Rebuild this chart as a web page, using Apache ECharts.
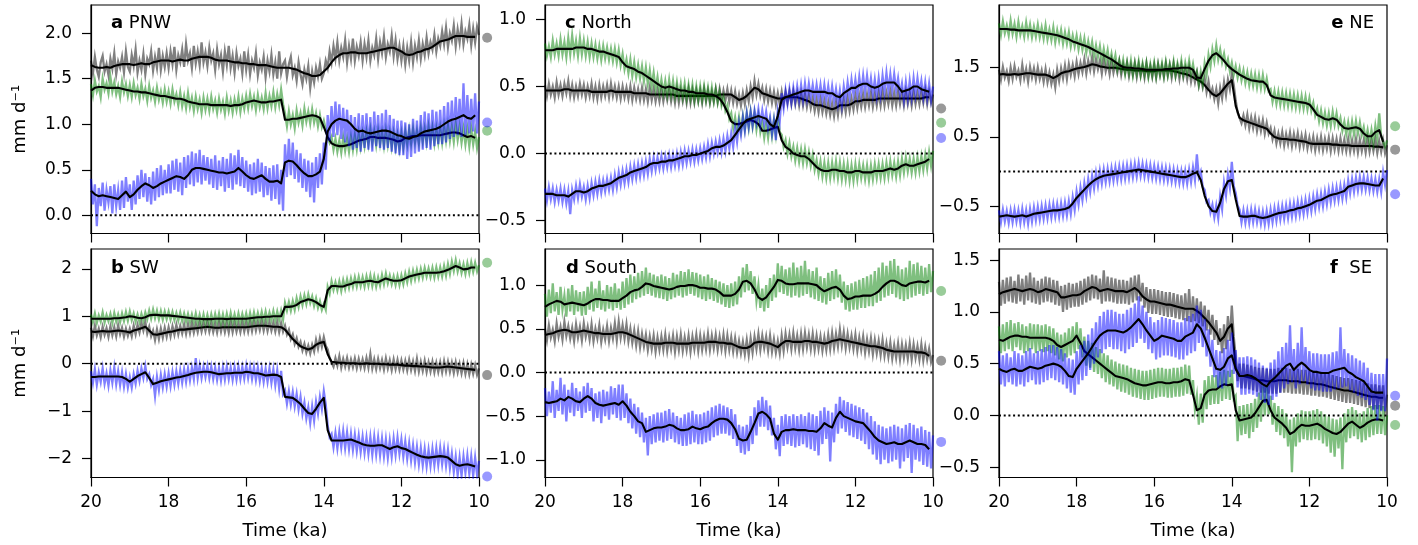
<!DOCTYPE html>
<html>
<head>
<meta charset="utf-8">
<script src="https://cdn.jsdelivr.net/npm/echarts@6/dist/echarts.min.js"></script>
<style>
html,body{margin:0;padding:0;background:#fff;}
#chart{width:1418px;height:545px;}
</style>
</head>
<body>
<div id="chart"></div>
<script>
// ---------------- DATA ----------------
// Sample times (ka) for the raw series, 0.05 ka steps
const TIME_RAW = [20.00,19.95,19.90,19.85,19.80,19.75,19.70,19.65,19.60,19.55,19.50,19.45,19.40,19.35,19.30,19.25,19.20,19.15,19.10,19.05,
19.00,18.95,18.90,18.85,18.80,18.75,18.70,18.65,18.60,18.55,18.50,18.45,18.40,18.35,18.30,18.25,18.20,18.15,18.10,18.05,
18.00,17.95,17.90,17.85,17.80,17.75,17.70,17.65,17.60,17.55,17.50,17.45,17.40,17.35,17.30,17.25,17.20,17.15,17.10,17.05,
17.00,16.95,16.90,16.85,16.80,16.75,16.70,16.65,16.60,16.55,16.50,16.45,16.40,16.35,16.30,16.25,16.20,16.15,16.10,16.05,
16.00,15.95,15.90,15.85,15.80,15.75,15.70,15.65,15.60,15.55,15.50,15.45,15.40,15.35,15.30,15.25,15.20,15.15,15.10,15.05,
15.00,14.95,14.90,14.85,14.80,14.75,14.70,14.65,14.60,14.55,14.50,14.45,14.40,14.35,14.30,14.25,14.20,14.15,14.10,14.05,
14.00,13.95,13.90,13.85,13.80,13.75,13.70,13.65,13.60,13.55,13.50,13.45,13.40,13.35,13.30,13.25,13.20,13.15,13.10,13.05,
13.00,12.95,12.90,12.85,12.80,12.75,12.70,12.65,12.60,12.55,12.50,12.45,12.40,12.35,12.30,12.25,12.20,12.15,12.10,12.05,
12.00,11.95,11.90,11.85,11.80,11.75,11.70,11.65,11.60,11.55,11.50,11.45,11.40,11.35,11.30,11.25,11.20,11.15,11.10,11.05,
11.00,10.95,10.90,10.85,10.80,10.75,10.70,10.65,10.60,10.55,10.50,10.45,10.40,10.35,10.30,10.25,10.20,10.15,10.10,10.05,10.00];
// Sample times (ka) for the smoothed series, 0.1 ka steps
const TIME_SMOOTH = [20.0,19.9,19.8,19.7,19.6,19.5,19.4,19.3,19.2,19.1,
19.0,18.9,18.8,18.7,18.6,18.5,18.4,18.3,18.2,18.1,
18.0,17.9,17.8,17.7,17.6,17.5,17.4,17.3,17.2,17.1,
17.0,16.9,16.8,16.7,16.6,16.5,16.4,16.3,16.2,16.1,
16.0,15.9,15.8,15.7,15.6,15.5,15.4,15.3,15.2,15.1,
15.0,14.9,14.8,14.7,14.6,14.5,14.4,14.3,14.2,14.1,
14.0,13.9,13.8,13.7,13.6,13.5,13.4,13.3,13.2,13.1,
13.0,12.9,12.8,12.7,12.6,12.5,12.4,12.3,12.2,12.1,
12.0,11.9,11.8,11.7,11.6,11.5,11.4,11.3,11.2,11.1,
11.0,10.9,10.8,10.7,10.6,10.5,10.4,10.3,10.2,10.1];
const DOT_TIME = 9.79;

// ---- a PNW ----
const PNW_GREY = [1.70,1.56,1.74,1.60,1.52,1.68,1.75,1.58,1.66,1.54,1.72,1.61,1.78,1.55,1.69,1.62,1.74,1.57,1.80,1.63,
1.58,1.76,1.64,1.82,1.57,1.70,1.60,1.77,1.55,1.72,1.66,1.80,1.59,1.74,1.62,1.84,1.60,1.75,1.63,1.78,
1.62,1.80,1.66,1.85,1.60,1.76,1.68,1.82,1.63,1.88,1.70,1.78,1.62,1.86,1.67,1.80,1.65,1.90,1.68,1.79,
1.64,1.84,1.70,1.78,1.60,1.82,1.66,1.76,1.58,1.80,1.65,1.86,1.62,1.75,1.57,1.78,1.64,1.72,1.56,1.80,
1.60,1.76,1.55,1.70,1.62,1.78,1.54,1.68,1.60,1.74,1.52,1.70,1.58,1.76,1.55,1.68,1.50,1.80,1.56,1.66,
1.70,1.52,1.66,1.74,1.54,1.62,1.48,1.68,1.55,1.44,1.60,1.50,1.64,1.40,1.58,1.46,1.62,1.52,1.66,1.50,
1.56,1.70,1.62,1.80,1.68,1.86,1.72,1.90,1.70,1.84,1.74,1.92,1.68,1.86,1.72,1.94,1.70,1.85,1.75,1.90,
1.70,1.88,1.74,1.92,1.70,1.84,1.76,1.94,1.72,1.90,1.78,1.96,1.74,1.88,1.80,1.97,1.75,1.92,1.72,1.86,
1.70,1.86,1.66,1.84,1.70,1.90,1.68,1.86,1.74,1.92,1.72,1.88,1.76,1.95,1.78,1.90,1.82,1.98,1.80,1.94,
1.86,2.02,1.88,2.06,1.85,2.00,1.92,2.08,1.86,2.04,1.90,2.10,1.88,2.02,1.94,2.09,1.87,2.05,1.90,2.07,1.98];
const PNW_GREY_SMOOTH = [1.65,1.63,1.62,1.62,1.63,1.62,1.64,1.65,1.66,1.66,
1.66,1.65,1.66,1.67,1.66,1.66,1.68,1.69,1.70,1.70,
1.70,1.69,1.70,1.71,1.70,1.70,1.72,1.73,1.74,1.74,
1.74,1.73,1.71,1.70,1.70,1.70,1.69,1.68,1.68,1.67,
1.67,1.66,1.66,1.65,1.65,1.65,1.64,1.63,1.62,1.62,
1.62,1.62,1.61,1.60,1.58,1.56,1.55,1.53,1.53,1.54,
1.58,1.62,1.68,1.73,1.76,1.78,1.78,1.79,1.79,1.78,
1.78,1.78,1.79,1.80,1.81,1.82,1.83,1.84,1.84,1.82,
1.80,1.77,1.76,1.77,1.79,1.80,1.82,1.83,1.85,1.88,
1.91,1.92,1.93,1.95,1.97,1.97,1.97,1.96,1.96,1.96];
const PNW_GREEN = [1.44,1.32,1.48,1.36,1.42,1.30,1.50,1.38,1.45,1.34,1.52,1.36,1.46,1.33,1.42,1.30,1.47,1.35,1.44,1.31,
1.43,1.30,1.45,1.32,1.40,1.28,1.44,1.31,1.39,1.26,1.42,1.29,1.37,1.25,1.40,1.27,1.36,1.24,1.38,1.25,
1.36,1.23,1.38,1.25,1.33,1.21,1.35,1.20,1.31,1.18,1.34,1.19,1.29,1.15,1.30,1.17,1.27,1.13,1.29,1.16,
1.28,1.15,1.30,1.17,1.26,1.13,1.28,1.16,1.25,1.12,1.29,1.15,1.26,1.13,1.27,1.16,1.30,1.14,1.28,1.17,
1.31,1.18,1.33,1.20,1.30,1.16,1.32,1.19,1.29,1.17,1.34,1.18,1.31,1.20,1.35,1.19,1.33,1.21,1.38,1.22,
1.12,0.98,1.14,1.00,1.10,0.96,1.15,1.02,1.12,0.99,1.17,1.03,1.14,1.01,1.16,1.02,1.12,0.98,1.10,0.97,
1.04,0.94,0.92,0.80,0.86,0.72,0.84,0.70,0.82,0.69,0.85,0.71,0.84,0.70,0.86,0.72,0.88,0.73,0.90,0.75,
0.90,0.76,0.92,0.78,0.94,0.79,0.92,0.77,0.93,0.78,0.91,0.76,0.93,0.77,0.91,0.75,0.90,0.74,0.88,0.73,
0.90,0.75,0.92,0.78,0.94,0.79,0.95,0.80,0.93,0.79,0.96,0.81,0.95,0.80,0.97,0.81,0.96,0.79,0.95,0.80,
0.96,0.80,0.98,0.82,0.99,0.82,0.97,0.81,1.00,0.83,0.97,0.80,0.95,0.78,0.94,0.76,0.95,0.78,0.92,0.74,0.86];
const PNW_GREEN_SMOOTH = [1.37,1.40,1.41,1.41,1.40,1.40,1.40,1.40,1.39,1.38,
1.37,1.36,1.36,1.35,1.35,1.34,1.33,1.32,1.31,1.31,
1.30,1.29,1.28,1.28,1.27,1.25,1.24,1.23,1.22,1.22,
1.22,1.21,1.21,1.21,1.21,1.21,1.20,1.21,1.21,1.22,
1.24,1.25,1.26,1.25,1.24,1.24,1.25,1.25,1.26,1.27,
1.05,1.05,1.06,1.06,1.07,1.08,1.09,1.10,1.09,1.07,
0.97,0.86,0.79,0.77,0.76,0.76,0.77,0.78,0.80,0.82,
0.83,0.84,0.86,0.86,0.85,0.85,0.85,0.84,0.83,0.81,
0.82,0.85,0.86,0.87,0.87,0.88,0.88,0.88,0.88,0.88,
0.88,0.89,0.90,0.91,0.91,0.90,0.88,0.86,0.87,0.85];
const PNW_BLUE = [0.40,0.12,0.34,-0.12,0.30,0.10,0.36,0.05,0.28,0.14,0.32,0.02,0.34,0.10,0.28,0.06,0.38,0.08,0.42,0.15,
0.34,0.06,0.38,0.12,0.44,0.18,0.50,0.20,0.46,0.15,0.42,0.12,0.48,0.16,0.52,0.20,0.55,0.22,0.50,0.24,
0.56,0.24,0.60,0.28,0.62,0.26,0.58,0.22,0.64,0.30,0.66,0.34,0.70,0.32,0.68,0.36,0.72,0.34,0.66,0.38,
0.64,0.34,0.62,0.30,0.66,0.28,0.60,0.32,0.64,0.26,0.62,0.30,0.68,0.28,0.66,0.34,0.72,0.32,0.64,0.30,
0.60,0.26,0.56,0.22,0.58,0.24,0.62,0.26,0.58,0.20,0.54,0.22,0.52,0.16,0.55,0.18,0.56,0.12,0.50,0.05,
0.78,0.42,0.84,0.44,0.80,0.40,0.72,0.36,0.68,0.30,0.62,0.26,0.60,0.20,0.58,0.14,0.64,0.30,0.68,0.34,
0.80,0.50,1.10,0.82,1.20,0.86,1.25,0.88,1.22,0.84,1.18,0.80,1.16,0.76,1.10,0.72,1.08,0.74,1.12,0.70,
1.10,0.74,1.12,0.72,1.08,0.70,1.14,0.76,1.10,0.74,1.12,0.72,1.16,0.74,1.10,0.70,1.06,0.68,1.04,0.66,
1.04,0.66,1.02,0.62,1.00,0.64,1.06,0.68,1.04,0.70,1.10,0.72,1.14,0.74,1.12,0.72,1.16,0.76,1.14,0.78,
1.16,0.78,1.20,0.80,1.24,0.84,1.26,0.86,1.30,0.88,1.28,0.86,1.45,0.88,1.32,0.90,1.28,0.92,1.34,0.90,1.25];
const PNW_BLUE_SMOOTH = [0.27,0.23,0.21,0.22,0.21,0.20,0.19,0.18,0.22,0.26,
0.20,0.23,0.28,0.32,0.35,0.33,0.30,0.32,0.35,0.37,
0.39,0.41,0.43,0.42,0.40,0.44,0.50,0.52,0.52,0.51,
0.50,0.49,0.48,0.47,0.47,0.46,0.47,0.48,0.52,0.48,
0.44,0.41,0.40,0.42,0.44,0.40,0.37,0.37,0.38,0.35,
0.58,0.60,0.59,0.55,0.50,0.46,0.43,0.43,0.45,0.48,
0.62,0.92,1.00,1.04,1.06,1.05,1.04,1.00,0.95,0.92,
0.93,0.91,0.90,0.91,0.92,0.93,0.93,0.92,0.90,0.88,
0.87,0.85,0.84,0.86,0.87,0.90,0.92,0.93,0.94,0.95,
0.97,1.00,1.03,1.05,1.06,1.08,1.10,1.07,1.06,1.10];
const PNW_DOTS = [1.95, 0.93, 1.02]; // grey, green, blue
const PNW_TICKS = [0, 0.5, 1.0, 1.5, 2.0];

// ---- b SW ----
const SW_GREY = [0.76,0.58,0.80,0.60,0.74,0.56,0.78,0.61,0.75,0.57,0.79,0.60,0.77,0.58,0.81,0.62,0.76,0.57,0.74,0.59,
0.74,0.58,0.80,0.62,0.82,0.66,0.86,0.70,0.88,0.64,0.78,0.58,0.70,0.50,0.72,0.52,0.74,0.55,0.76,0.57,
0.77,0.58,0.79,0.61,0.82,0.62,0.80,0.64,0.83,0.63,0.84,0.65,0.86,0.66,0.84,0.67,0.87,0.68,0.86,0.69,
0.88,0.68,0.86,0.67,0.85,0.66,0.88,0.68,0.87,0.67,0.86,0.66,0.89,0.67,0.87,0.68,0.85,0.67,0.88,0.68,
0.87,0.68,0.89,0.69,0.90,0.70,0.88,0.71,0.91,0.70,0.89,0.69,0.88,0.70,0.87,0.68,0.88,0.67,0.86,0.68,
0.80,0.62,0.72,0.52,0.62,0.42,0.54,0.36,0.46,0.28,0.42,0.24,0.38,0.22,0.40,0.26,0.50,0.32,0.54,0.36,
0.56,0.38,0.30,0.12,0.14,-0.06,0.12,-0.04,0.16,-0.08,0.10,-0.06,0.12,-0.08,0.09,-0.07,0.11,-0.09,0.10,-0.08,
0.09,-0.09,0.12,-0.08,0.20,-0.10,0.09,-0.11,0.10,-0.09,0.08,-0.12,0.11,-0.10,0.07,-0.13,0.09,-0.11,0.08,-0.12,
0.07,-0.12,0.06,-0.14,0.08,-0.13,0.05,-0.15,0.10,-0.16,0.04,-0.15,0.06,-0.17,0.03,-0.16,0.04,-0.18,0.02,-0.17,
0.03,-0.18,0.05,-0.16,0.04,-0.17,0.02,-0.19,0.03,-0.18,0.00,-0.20,0.01,-0.21,-0.01,-0.22,-0.02,-0.21,-0.03,-0.23,-0.10];
const SW_GREY_SMOOTH = [0.68,0.67,0.68,0.69,0.68,0.68,0.69,0.70,0.69,0.68,
0.66,0.70,0.72,0.75,0.78,0.70,0.62,0.61,0.63,0.65,
0.67,0.68,0.70,0.72,0.72,0.73,0.74,0.75,0.76,0.77,
0.78,0.77,0.76,0.76,0.77,0.77,0.77,0.77,0.77,0.77,
0.77,0.78,0.79,0.80,0.80,0.80,0.79,0.78,0.78,0.77,
0.72,0.62,0.52,0.44,0.37,0.33,0.30,0.33,0.40,0.44,
0.46,0.20,0.04,0.03,0.02,0.02,0.01,0.01,0.01,0.00,
0.00,0.01,0.00,0.00,0.00,-0.01,-0.01,-0.02,-0.02,-0.02,
-0.03,-0.04,-0.04,-0.05,-0.05,-0.06,-0.06,-0.07,-0.08,-0.08,
-0.08,-0.07,-0.06,-0.07,-0.08,-0.09,-0.10,-0.11,-0.12,-0.13];
const SW_GREEN = [1.04,0.88,1.06,0.86,1.02,0.89,1.08,0.87,1.03,0.90,1.05,0.86,1.07,0.89,1.04,0.88,1.06,0.90,1.09,0.91,
1.10,0.92,1.06,0.89,1.04,0.88,1.05,0.90,1.08,0.94,1.12,0.95,1.14,0.96,1.12,0.94,1.11,0.93,1.10,0.94,
1.10,0.93,1.09,0.92,1.07,0.91,1.08,0.90,1.06,0.89,1.05,0.88,1.04,0.87,1.06,0.86,1.03,0.85,1.04,0.85,
1.03,0.85,1.04,0.86,1.05,0.87,1.06,0.86,1.04,0.85,1.05,0.86,1.07,0.87,1.04,0.86,1.06,0.87,1.05,0.88,
1.06,0.87,1.07,0.88,1.08,0.89,1.07,0.90,1.09,0.90,1.10,0.91,1.08,0.92,1.11,0.91,1.10,0.92,1.12,0.93,
1.28,1.12,1.30,1.12,1.32,1.14,1.38,1.20,1.42,1.24,1.44,1.26,1.46,1.28,1.42,1.22,1.38,1.18,1.32,1.14,
1.26,1.14,1.62,1.48,1.74,1.56,1.72,1.55,1.74,1.54,1.76,1.58,1.78,1.60,1.80,1.62,1.82,1.63,1.83,1.64,
1.82,1.63,1.84,1.65,1.86,1.64,1.84,1.63,1.82,1.65,1.87,1.68,1.90,1.70,1.86,1.68,1.84,1.66,1.85,1.66,
1.86,1.68,1.90,1.72,1.94,1.75,1.96,1.78,1.98,1.80,2.00,1.82,2.02,1.84,2.01,1.83,2.02,1.82,2.03,1.84,
2.03,1.84,2.06,1.86,2.10,1.90,2.15,1.96,2.18,1.95,2.12,1.92,2.10,1.90,2.12,1.92,2.14,1.94,2.13,1.95,2.08];
const SW_GREEN_SMOOTH = [0.95,0.95,0.95,0.95,0.95,0.95,0.96,0.96,0.97,0.98,
1.00,0.99,0.97,0.96,0.98,1.02,1.03,1.03,1.02,1.02,
1.02,1.01,1.00,0.99,0.98,0.97,0.96,0.95,0.95,0.94,
0.94,0.94,0.95,0.95,0.95,0.94,0.95,0.95,0.95,0.95,
0.95,0.96,0.97,0.98,0.98,0.99,0.99,1.00,1.00,1.00,
1.20,1.20,1.21,1.24,1.30,1.33,1.36,1.34,1.30,1.24,
1.20,1.55,1.64,1.64,1.63,1.63,1.66,1.68,1.72,1.72,
1.72,1.74,1.75,1.73,1.72,1.76,1.80,1.77,1.75,1.75,
1.76,1.80,1.84,1.86,1.88,1.90,1.92,1.92,1.92,1.92,
1.93,1.95,1.98,2.02,2.06,2.03,1.99,2.00,2.03,2.03];
const SW_BLUE = [-0.16,-0.40,-0.12,-0.44,-0.18,-0.38,-0.10,-0.42,-0.20,-0.46,-0.14,-0.40,-0.08,-0.43,-0.16,-0.45,-0.18,-0.48,-0.22,-0.50,
-0.28,-0.50,-0.22,-0.42,-0.15,-0.36,-0.10,-0.30,-0.05,-0.32,-0.22,-0.45,-0.32,-0.68,-0.28,-0.55,-0.24,-0.50,-0.22,-0.48,
-0.20,-0.47,-0.18,-0.44,-0.16,-0.42,-0.14,-0.40,-0.12,-0.38,-0.10,-0.35,-0.08,-0.32,0.12,-0.30,-0.04,-0.30,-0.06,-0.28,
-0.05,-0.30,-0.06,-0.32,-0.08,-0.34,-0.09,-0.35,-0.07,-0.33,-0.06,-0.32,-0.08,-0.34,-0.07,-0.33,-0.06,-0.32,-0.07,-0.31,
-0.04,-0.30,-0.06,-0.32,-0.07,-0.34,-0.08,-0.36,-0.10,-0.38,-0.11,-0.38,-0.10,-0.40,-0.12,-0.45,-0.14,-0.52,-0.15,-0.64,
-0.56,-0.84,-0.58,-0.86,-0.60,-0.90,-0.64,-0.96,-0.70,-1.05,-0.82,-1.15,-0.92,-1.25,-0.90,-1.20,-0.80,-1.05,-0.70,-0.95,
-0.58,-0.86,-1.30,-1.55,-1.48,-1.76,-1.46,-1.78,-1.44,-1.76,-1.42,-1.78,-1.45,-1.80,-1.48,-1.82,-1.50,-1.84,-1.52,-1.86,
-1.54,-1.88,-1.56,-1.90,-1.55,-1.92,-1.54,-1.91,-1.56,-1.93,-1.58,-1.95,-1.60,-1.98,-1.62,-1.96,-1.58,-1.92,-1.56,-1.90,
-1.60,-1.96,-1.64,-2.00,-1.68,-2.04,-1.72,-2.08,-1.76,-2.12,-1.78,-2.14,-1.80,-2.16,-1.82,-2.15,-1.80,-2.14,-1.79,-2.13,
-1.78,-2.12,-1.80,-2.15,-1.82,-2.20,-1.90,-2.28,-1.96,-2.35,-1.98,-2.36,-1.96,-2.30,-1.94,-2.32,-1.96,-2.36,-1.98,-2.34,-2.05];
const SW_BLUE_SMOOTH = [-0.28,-0.28,-0.27,-0.27,-0.27,-0.27,-0.27,-0.27,-0.28,-0.32,
-0.38,-0.32,-0.26,-0.22,-0.18,-0.30,-0.43,-0.40,-0.37,-0.35,
-0.33,-0.31,-0.29,-0.28,-0.26,-0.24,-0.21,-0.19,-0.18,-0.17,
-0.17,-0.18,-0.20,-0.22,-0.21,-0.20,-0.20,-0.19,-0.19,-0.19,
-0.17,-0.18,-0.20,-0.20,-0.22,-0.25,-0.24,-0.23,-0.24,-0.28,
-0.70,-0.71,-0.72,-0.78,-0.85,-0.95,-1.04,-1.06,-0.95,-0.82,
-0.72,-1.40,-1.62,-1.62,-1.62,-1.62,-1.61,-1.60,-1.63,-1.66,
-1.70,-1.72,-1.73,-1.73,-1.72,-1.72,-1.76,-1.80,-1.76,-1.74,
-1.78,-1.80,-1.84,-1.88,-1.92,-1.95,-1.97,-1.98,-1.97,-1.96,
-1.95,-1.96,-1.98,-2.05,-2.12,-2.15,-2.13,-2.12,-2.14,-2.17];
const SW_DOTS = [-0.24, 2.13, -2.38];
const SW_TICKS = [-2, -1, 0, 1, 2];

// ---- c North ----
const NORTH_GREY = [0.51,0.43,0.52,0.44,0.50,0.42,0.53,0.44,0.51,0.43,0.52,0.45,0.54,0.43,0.51,0.42,0.50,0.43,0.52,0.44,
0.51,0.42,0.50,0.43,0.52,0.42,0.50,0.41,0.51,0.42,0.50,0.43,0.51,0.42,0.52,0.43,0.50,0.42,0.50,0.41,
0.50,0.42,0.49,0.41,0.50,0.40,0.49,0.41,0.48,0.40,0.49,0.40,0.48,0.39,0.49,0.40,0.48,0.39,0.47,0.39,
0.48,0.39,0.47,0.40,0.48,0.39,0.47,0.38,0.48,0.38,0.47,0.39,0.47,0.38,0.48,0.38,0.47,0.38,0.47,0.39,
0.47,0.38,0.48,0.39,0.47,0.38,0.46,0.39,0.48,0.39,0.48,0.39,0.47,0.40,0.48,0.39,0.47,0.38,0.46,0.37,
0.44,0.36,0.45,0.37,0.47,0.39,0.50,0.42,0.54,0.44,0.52,0.43,0.49,0.40,0.48,0.39,0.47,0.38,0.46,0.37,
0.45,0.37,0.46,0.37,0.46,0.38,0.46,0.37,0.46,0.37,0.45,0.36,0.45,0.36,0.44,0.35,0.43,0.34,0.41,0.32,
0.40,0.31,0.40,0.31,0.39,0.30,0.38,0.29,0.37,0.28,0.38,0.29,0.40,0.31,0.40,0.31,0.41,0.32,0.41,0.33,
0.43,0.34,0.43,0.35,0.44,0.35,0.44,0.36,0.45,0.35,0.44,0.36,0.45,0.36,0.46,0.36,0.45,0.37,0.46,0.36,
0.45,0.36,0.46,0.37,0.45,0.36,0.46,0.37,0.45,0.36,0.46,0.37,0.45,0.37,0.46,0.38,0.47,0.37,0.46,0.38,0.44];
const NORTH_GREY_SMOOTH = [0.47,0.47,0.47,0.47,0.47,0.48,0.48,0.47,0.47,0.47,
0.47,0.47,0.46,0.46,0.46,0.46,0.46,0.47,0.46,0.46,
0.46,0.46,0.46,0.45,0.45,0.45,0.45,0.44,0.44,0.44,
0.44,0.44,0.44,0.44,0.43,0.43,0.43,0.43,0.43,0.43,
0.43,0.43,0.43,0.43,0.43,0.44,0.44,0.44,0.44,0.42,
0.40,0.41,0.43,0.46,0.49,0.48,0.45,0.44,0.43,0.42,
0.41,0.41,0.42,0.42,0.42,0.42,0.41,0.40,0.39,0.37,
0.36,0.36,0.35,0.34,0.33,0.34,0.36,0.36,0.36,0.37,
0.39,0.39,0.40,0.40,0.40,0.40,0.41,0.41,0.41,0.41,
0.41,0.41,0.41,0.41,0.41,0.41,0.41,0.41,0.42,0.42];
const NORTH_GREEN = [0.82,0.73,0.80,0.72,0.84,0.74,0.82,0.73,0.85,0.74,0.83,0.72,0.86,0.74,0.88,0.75,0.84,0.73,0.86,0.74,
0.84,0.73,0.83,0.72,0.82,0.72,0.81,0.71,0.80,0.70,0.80,0.71,0.79,0.70,0.78,0.69,0.78,0.68,0.77,0.66,
0.74,0.63,0.70,0.60,0.70,0.58,0.68,0.57,0.66,0.56,0.65,0.54,0.64,0.52,0.62,0.50,0.60,0.48,0.57,0.46,
0.55,0.45,0.54,0.44,0.55,0.44,0.54,0.43,0.53,0.43,0.52,0.42,0.52,0.41,0.51,0.41,0.51,0.40,0.50,0.40,
0.50,0.40,0.50,0.40,0.49,0.39,0.49,0.39,0.48,0.38,0.46,0.36,0.42,0.32,0.36,0.26,0.30,0.19,0.27,0.17,
0.27,0.17,0.28,0.18,0.30,0.19,0.31,0.20,0.30,0.18,0.28,0.16,0.23,0.12,0.22,0.12,0.24,0.13,0.25,0.14,
0.28,0.16,0.14,0.05,0.10,0.00,0.08,-0.02,0.05,-0.05,0.04,-0.06,0.03,-0.07,0.03,-0.07,0.01,-0.09,-0.01,-0.12,
-0.05,-0.15,-0.06,-0.17,-0.07,-0.18,-0.07,-0.18,-0.07,-0.17,-0.06,-0.18,-0.07,-0.19,-0.08,-0.19,-0.08,-0.20,-0.09,-0.20,
-0.08,-0.19,-0.08,-0.18,-0.09,-0.19,-0.09,-0.20,-0.09,-0.19,-0.08,-0.18,-0.08,-0.18,-0.08,-0.18,-0.07,-0.17,-0.06,-0.16,
-0.07,-0.17,-0.06,-0.16,-0.04,-0.14,-0.03,-0.13,-0.04,-0.14,-0.04,-0.14,-0.03,-0.13,-0.02,-0.12,-0.01,-0.11,0.01,-0.09,0.02];
const NORTH_GREEN_SMOOTH = [0.77,0.77,0.77,0.78,0.78,0.78,0.78,0.78,0.79,0.79,
0.79,0.78,0.78,0.77,0.76,0.76,0.75,0.74,0.73,0.72,
0.68,0.65,0.64,0.63,0.61,0.60,0.58,0.56,0.54,0.52,
0.50,0.49,0.50,0.49,0.48,0.47,0.47,0.46,0.46,0.45,
0.45,0.45,0.44,0.44,0.43,0.41,0.37,0.31,0.24,0.22,
0.22,0.23,0.24,0.25,0.24,0.22,0.17,0.17,0.18,0.19,
0.20,0.10,0.05,0.03,0.00,-0.01,-0.02,-0.02,-0.04,-0.07,
-0.10,-0.12,-0.13,-0.13,-0.12,-0.12,-0.13,-0.13,-0.14,-0.14,
-0.13,-0.13,-0.14,-0.14,-0.14,-0.13,-0.13,-0.13,-0.12,-0.11,
-0.12,-0.11,-0.09,-0.08,-0.09,-0.09,-0.08,-0.07,-0.06,-0.04];
const NORTH_BLUE = [-0.26,-0.35,-0.25,-0.34,-0.26,-0.36,-0.27,-0.35,-0.26,-0.36,-0.27,-0.37,-0.28,-0.45,-0.27,-0.34,-0.24,-0.33,-0.23,-0.32,
-0.25,-0.34,-0.24,-0.33,-0.22,-0.31,-0.21,-0.30,-0.20,-0.29,-0.20,-0.28,-0.19,-0.27,-0.18,-0.27,-0.16,-0.25,-0.14,-0.23,
-0.13,-0.22,-0.12,-0.21,-0.10,-0.19,-0.09,-0.18,-0.08,-0.17,-0.07,-0.16,-0.06,-0.15,-0.04,-0.13,-0.03,-0.12,-0.03,-0.11,
-0.02,-0.11,-0.02,-0.10,-0.01,-0.10,-0.01,-0.09,0.00,-0.09,0.01,-0.08,0.02,-0.07,0.02,-0.06,0.03,-0.06,0.03,-0.05,
0.04,-0.04,0.05,-0.03,0.07,-0.02,0.08,0.00,0.09,0.01,0.10,0.01,0.11,0.02,0.13,0.04,0.15,0.05,0.19,0.09,
0.23,0.14,0.27,0.17,0.30,0.20,0.31,0.21,0.32,0.23,0.33,0.22,0.32,0.22,0.31,0.19,0.27,0.15,0.25,0.10,
0.32,0.24,0.45,0.34,0.47,0.37,0.48,0.38,0.49,0.39,0.50,0.40,0.51,0.40,0.52,0.41,0.52,0.42,0.51,0.41,
0.51,0.41,0.51,0.40,0.51,0.40,0.50,0.39,0.50,0.39,0.48,0.37,0.47,0.36,0.50,0.40,0.53,0.42,0.55,0.44,
0.55,0.44,0.57,0.45,0.58,0.46,0.58,0.46,0.56,0.44,0.55,0.43,0.56,0.44,0.58,0.46,0.60,0.47,0.59,0.47,
0.59,0.47,0.56,0.44,0.52,0.40,0.53,0.41,0.54,0.42,0.56,0.44,0.56,0.45,0.54,0.42,0.53,0.41,0.52,0.40,0.50];
const NORTH_BLUE_SMOOTH = [-0.30,-0.30,-0.30,-0.31,-0.31,-0.31,-0.32,-0.30,-0.28,-0.28,
-0.29,-0.28,-0.26,-0.25,-0.24,-0.24,-0.23,-0.22,-0.20,-0.18,
-0.17,-0.16,-0.14,-0.13,-0.12,-0.11,-0.10,-0.08,-0.07,-0.07,
-0.06,-0.06,-0.05,-0.05,-0.04,-0.03,-0.02,-0.02,-0.01,-0.01,
0.00,0.01,0.02,0.04,0.05,0.05,0.06,0.08,0.10,0.14,
0.18,0.22,0.25,0.26,0.27,0.28,0.27,0.26,0.22,0.20,
0.28,0.40,0.42,0.43,0.44,0.45,0.46,0.47,0.47,0.46,
0.46,0.46,0.46,0.45,0.45,0.43,0.42,0.45,0.47,0.49,
0.49,0.51,0.52,0.52,0.50,0.49,0.50,0.52,0.53,0.53,
0.53,0.50,0.46,0.47,0.48,0.50,0.50,0.48,0.47,0.46];
const NORTH_DOTS = [0.336, 0.23, 0.117];
const NORTH_TICKS = [-0.5, 0, 0.5, 1.0];

// ---- d South ----
const SOUTH_GREY = [0.50,0.37,0.54,0.40,0.49,0.36,0.56,0.41,0.52,0.38,0.58,0.42,0.53,0.39,0.51,0.36,0.55,0.40,0.52,0.37,
0.56,0.41,0.52,0.38,0.55,0.36,0.50,0.39,0.54,0.35,0.49,0.38,0.53,0.36,0.51,0.39,0.56,0.37,0.58,0.40,
0.54,0.39,0.55,0.36,0.50,0.34,0.48,0.31,0.47,0.29,0.44,0.30,0.43,0.26,0.41,0.27,0.42,0.24,0.40,0.26,
0.41,0.26,0.43,0.25,0.40,0.27,0.42,0.24,0.41,0.26,0.43,0.25,0.40,0.26,0.42,0.24,0.41,0.27,0.43,0.25,
0.42,0.26,0.41,0.27,0.44,0.26,0.42,0.28,0.43,0.26,0.41,0.27,0.43,0.25,0.42,0.26,0.40,0.24,0.39,0.23,
0.36,0.22,0.35,0.21,0.37,0.20,0.39,0.23,0.41,0.27,0.44,0.26,0.42,0.28,0.41,0.25,0.42,0.24,0.38,0.23,
0.36,0.22,0.42,0.25,0.44,0.29,0.43,0.27,0.45,0.28,0.42,0.26,0.44,0.27,0.45,0.29,0.43,0.27,0.44,0.26,
0.42,0.27,0.41,0.25,0.40,0.26,0.43,0.27,0.45,0.28,0.44,0.30,0.49,0.31,0.46,0.28,0.44,0.29,0.42,0.27,
0.43,0.25,0.40,0.26,0.41,0.23,0.38,0.24,0.39,0.21,0.37,0.22,0.36,0.20,0.37,0.19,0.33,0.18,0.34,0.16,
0.31,0.17,0.33,0.15,0.32,0.17,0.31,0.16,0.33,0.15,0.32,0.17,0.30,0.15,0.32,0.14,0.29,0.15,0.27,0.12,0.20];
const SOUTH_GREY_SMOOTH = [0.43,0.44,0.45,0.47,0.48,0.49,0.48,0.46,0.46,0.47,
0.48,0.47,0.46,0.45,0.45,0.44,0.44,0.44,0.45,0.46,
0.46,0.45,0.43,0.41,0.39,0.37,0.35,0.34,0.33,0.33,
0.33,0.34,0.34,0.34,0.33,0.33,0.33,0.33,0.34,0.34,
0.34,0.34,0.35,0.35,0.35,0.34,0.34,0.33,0.33,0.31,
0.29,0.28,0.28,0.30,0.34,0.35,0.35,0.34,0.33,0.31,
0.29,0.33,0.36,0.36,0.35,0.35,0.35,0.36,0.36,0.35,
0.35,0.34,0.33,0.34,0.36,0.37,0.38,0.37,0.36,0.35,
0.34,0.33,0.32,0.31,0.30,0.30,0.29,0.28,0.26,0.25,
0.24,0.24,0.24,0.24,0.24,0.24,0.23,0.23,0.22,0.19];
const SOUTH_GREEN = [0.90,0.64,0.95,0.68,1.02,0.70,0.92,0.66,0.98,0.72,0.88,0.64,0.96,0.70,1.00,0.66,0.94,0.70,0.92,0.65,
0.93,0.66,0.98,0.72,1.04,0.70,0.96,0.74,1.05,0.72,0.94,0.70,1.00,0.73,0.98,0.71,1.02,0.74,0.96,0.72,
1.04,0.74,1.08,0.78,1.12,0.80,1.10,0.84,1.14,0.86,1.16,0.88,1.20,0.90,1.14,0.88,1.12,0.86,1.10,0.85,
1.12,0.84,1.10,0.82,1.08,0.84,1.14,0.86,1.12,0.88,1.16,0.86,1.15,0.88,1.18,0.90,1.15,0.88,1.14,0.86,
1.12,0.84,1.10,0.82,1.12,0.84,1.08,0.82,1.06,0.80,1.04,0.78,1.02,0.75,1.00,0.74,1.02,0.76,1.04,0.78,
1.10,0.86,1.20,0.92,1.24,0.94,1.16,0.90,1.10,0.82,1.00,0.74,0.96,0.70,1.00,0.74,1.08,0.82,1.12,0.86,
1.25,0.92,1.22,0.90,1.18,0.88,1.20,0.86,1.26,0.88,1.20,0.86,1.22,0.88,1.28,0.90,1.18,0.86,1.16,0.84,
1.20,0.82,1.10,0.80,1.08,0.78,1.14,0.82,1.16,0.84,1.18,0.86,1.12,0.80,1.04,0.72,1.00,0.70,1.02,0.72,
1.04,0.72,1.06,0.74,1.08,0.74,1.10,0.76,1.12,0.76,1.16,0.80,1.20,0.82,1.26,0.86,1.22,0.88,1.28,0.90,
1.30,0.86,1.22,0.84,1.18,0.82,1.20,0.84,1.28,0.86,1.24,0.88,1.26,0.90,1.22,0.88,1.20,0.90,1.24,0.92,1.16];
const SOUTH_GREEN_SMOOTH = [0.75,0.78,0.80,0.82,0.81,0.78,0.79,0.80,0.79,0.78,
0.77,0.79,0.82,0.84,0.84,0.83,0.83,0.82,0.82,0.82,
0.85,0.88,0.92,0.94,0.95,0.98,1.02,1.01,0.99,0.98,
0.97,0.96,0.95,0.96,0.98,0.99,0.99,1.00,1.00,0.99,
0.97,0.97,0.96,0.96,0.95,0.92,0.88,0.88,0.88,0.90,
0.95,1.04,1.05,1.02,0.95,0.86,0.83,0.86,0.92,0.98,
1.06,1.05,1.02,1.01,1.01,1.02,1.02,1.02,1.02,1.01,
1.00,0.96,0.93,0.95,0.97,0.98,0.95,0.88,0.84,0.85,
0.87,0.87,0.88,0.88,0.88,0.90,0.93,0.98,1.02,1.05,
1.05,1.03,1.00,0.99,1.02,1.03,1.04,1.04,1.03,1.05];
const SOUTH_BLUE = [-0.18,-0.50,-0.22,-0.46,-0.10,-0.52,-0.20,-0.44,-0.06,-0.48,-0.14,-0.56,-0.20,-0.46,-0.12,-0.50,-0.18,-0.44,-0.22,-0.52,
-0.16,-0.46,-0.12,-0.44,-0.18,-0.56,-0.24,-0.52,-0.22,-0.58,-0.20,-0.50,-0.22,-0.54,-0.16,-0.48,-0.18,-0.52,-0.14,-0.55,
-0.14,-0.52,-0.24,-0.58,-0.30,-0.64,-0.36,-0.70,-0.40,-0.74,-0.46,-0.80,-0.52,-0.95,-0.50,-0.82,-0.48,-0.80,-0.46,-0.78,
-0.46,-0.80,-0.44,-0.78,-0.42,-0.76,-0.46,-0.80,-0.50,-0.82,-0.52,-0.84,-0.48,-0.84,-0.46,-0.82,-0.44,-0.80,-0.48,-0.82,
-0.48,-0.82,-0.46,-0.80,-0.44,-0.78,-0.40,-0.74,-0.38,-0.72,-0.36,-0.70,-0.38,-0.70,-0.40,-0.72,-0.42,-0.76,-0.48,-0.84,
-0.60,-0.92,-0.62,-0.94,-0.60,-0.90,-0.50,-0.82,-0.40,-0.72,-0.32,-0.62,-0.28,-0.62,-0.32,-0.66,-0.38,-0.72,-0.52,-0.88,
-0.60,-0.96,-0.50,-0.84,-0.48,-0.82,-0.50,-0.84,-0.48,-0.86,-0.50,-0.84,-0.48,-0.82,-0.50,-0.86,-0.46,-0.88,-0.48,-0.90,
-0.50,-0.95,-0.44,-0.82,-0.40,-0.76,-0.44,-1.02,-0.46,-0.80,-0.36,-0.70,-0.28,-0.64,-0.32,-0.68,-0.34,-0.72,-0.36,-0.74,
-0.38,-0.76,-0.40,-0.78,-0.42,-0.82,-0.46,-0.88,-0.50,-0.94,-0.56,-1.00,-0.60,-1.05,-0.62,-1.00,-0.64,-1.04,-0.62,-1.02,
-0.60,-1.00,-0.62,-1.10,-0.64,-1.02,-0.60,-0.98,-0.58,-1.15,-0.60,-1.00,-0.64,-1.02,-0.62,-1.06,-0.66,-1.08,-0.68,-1.10,-0.72];
const SOUTH_BLUE_SMOOTH = [-0.34,-0.35,-0.34,-0.33,-0.30,-0.32,-0.28,-0.30,-0.33,-0.34,
-0.30,-0.27,-0.30,-0.35,-0.37,-0.38,-0.37,-0.36,-0.35,-0.37,
-0.33,-0.38,-0.45,-0.50,-0.56,-0.58,-0.68,-0.66,-0.64,-0.63,
-0.63,-0.62,-0.60,-0.61,-0.64,-0.66,-0.66,-0.65,-0.62,-0.64,
-0.65,-0.63,-0.62,-0.58,-0.55,-0.53,-0.53,-0.54,-0.58,-0.65,
-0.76,-0.78,-0.77,-0.68,-0.58,-0.47,-0.45,-0.48,-0.53,-0.70,
-0.77,-0.68,-0.66,-0.66,-0.65,-0.66,-0.66,-0.66,-0.67,-0.67,
-0.68,-0.64,-0.58,-0.61,-0.63,-0.52,-0.45,-0.50,-0.52,-0.54,
-0.56,-0.57,-0.58,-0.63,-0.68,-0.74,-0.78,-0.80,-0.82,-0.81,
-0.80,-0.82,-0.82,-0.80,-0.78,-0.80,-0.82,-0.82,-0.83,-0.88];
const SOUTH_DOTS = [0.134, 0.934, -0.795];
const SOUTH_TICKS = [-1.0, -0.5, 0, 0.5, 1.0];

// ---- e NE ----
const NE_GREY = [1.47,1.33,1.51,1.36,1.45,1.31,1.50,1.34,1.52,1.37,1.46,1.32,1.54,1.35,1.48,1.30,1.51,1.36,1.49,1.33,
1.50,1.34,1.46,1.30,1.48,1.29,1.43,1.27,1.40,1.22,1.47,1.31,1.49,1.35,1.53,1.34,1.55,1.40,1.54,1.38,
1.58,1.41,1.57,1.44,1.62,1.42,1.60,1.47,1.65,1.45,1.62,1.48,1.60,1.42,1.62,1.45,1.57,1.41,1.60,1.43,
1.56,1.43,1.59,1.40,1.55,1.42,1.57,1.38,1.54,1.40,1.56,1.37,1.55,1.39,1.53,1.36,1.56,1.38,1.52,1.37,
1.54,1.36,1.55,1.39,1.53,1.37,1.56,1.39,1.54,1.36,1.55,1.38,1.52,1.34,1.53,1.36,1.49,1.33,1.50,1.30,
1.44,1.29,1.43,1.24,1.37,1.22,1.35,1.15,1.30,1.11,1.20,1.05,1.19,0.99,1.21,1.06,1.29,1.11,1.33,1.19,
1.41,1.25,1.03,0.85,0.87,0.70,0.81,0.67,0.82,0.63,0.78,0.63,0.78,0.59,0.74,0.59,0.74,0.55,0.70,0.55,
0.63,0.47,0.59,0.41,0.55,0.41,0.57,0.38,0.54,0.40,0.56,0.37,0.54,0.39,0.55,0.36,0.52,0.37,0.53,0.34,
0.49,0.34,0.50,0.31,0.48,0.33,0.50,0.31,0.47,0.33,0.49,0.30,0.48,0.32,0.47,0.30,0.48,0.31,0.46,0.30,
0.47,0.29,0.45,0.30,0.47,0.28,0.46,0.30,0.45,0.28,0.47,0.29,0.45,0.30,0.46,0.27,0.44,0.29,0.45,0.27,0.38];
const NE_GREY_SMOOTH = [1.40,1.41,1.40,1.40,1.41,1.40,1.41,1.42,1.42,1.41,
1.40,1.40,1.40,1.38,1.35,1.38,1.42,1.44,1.45,1.47,
1.49,1.50,1.51,1.53,1.55,1.54,1.52,1.51,1.50,1.50,
1.50,1.49,1.48,1.47,1.47,1.46,1.46,1.46,1.45,1.45,
1.45,1.46,1.46,1.46,1.46,1.45,1.44,1.42,1.41,1.39,
1.36,1.33,1.30,1.25,1.18,1.12,1.09,1.13,1.20,1.27,
1.32,0.95,0.78,0.74,0.72,0.70,0.68,0.66,0.64,0.62,
0.55,0.50,0.48,0.47,0.47,0.46,0.46,0.45,0.44,0.43,
0.41,0.40,0.40,0.40,0.40,0.40,0.39,0.39,0.38,0.38,
0.38,0.37,0.37,0.37,0.37,0.37,0.37,0.36,0.36,0.35];
const NE_GREEN = [2.14,1.98,2.17,2.00,2.11,1.97,2.18,1.99,2.13,1.95,2.16,1.98,2.10,1.95,2.15,1.97,2.12,1.94,2.09,1.95,
2.12,1.94,2.08,1.92,2.11,1.91,2.05,1.90,2.08,1.87,2.04,1.89,2.04,1.85,2.01,1.85,2.01,1.81,1.96,1.81,
1.96,1.77,1.93,1.76,1.92,1.72,1.88,1.72,1.87,1.67,1.82,1.66,1.81,1.61,1.77,1.60,1.75,1.55,1.70,1.54,
1.68,1.48,1.61,1.46,1.61,1.41,1.58,1.42,1.60,1.39,1.57,1.41,1.59,1.39,1.56,1.40,1.57,1.37,1.55,1.39,
1.57,1.37,1.55,1.40,1.56,1.38,1.58,1.39,1.55,1.41,1.59,1.39,1.56,1.42,1.60,1.40,1.57,1.43,1.60,1.41,
1.55,1.38,1.45,1.26,1.44,1.27,1.56,1.40,1.68,1.52,1.76,1.60,1.82,1.62,1.76,1.58,1.70,1.52,1.62,1.45,
1.57,1.40,1.52,1.36,1.49,1.32,1.46,1.28,1.43,1.25,1.41,1.24,1.40,1.22,1.39,1.21,1.39,1.20,1.34,1.16,
1.19,1.01,1.16,0.98,1.15,0.97,1.14,0.96,1.13,0.95,1.12,0.94,1.11,0.93,1.10,0.92,1.09,0.91,1.08,0.90,
1.06,0.88,0.99,0.81,0.91,0.73,0.88,0.70,0.85,0.67,0.84,0.66,0.86,0.68,0.84,0.66,0.77,0.59,0.72,0.54,
0.71,0.53,0.72,0.54,0.73,0.55,0.71,0.53,0.64,0.46,0.60,0.42,0.60,0.42,0.66,0.48,0.84,0.51,0.52,0.36,0.45];
const NE_GREEN_SMOOTH = [2.06,2.06,2.06,2.05,2.05,2.04,2.04,2.04,2.04,2.03,
2.02,2.01,2.00,1.99,1.98,1.97,1.95,1.93,1.91,1.88,
1.86,1.84,1.82,1.80,1.77,1.74,1.71,1.68,1.65,1.62,
1.58,1.54,1.51,1.50,1.50,1.49,1.49,1.48,1.47,1.47,
1.47,1.47,1.47,1.48,1.48,1.49,1.49,1.50,1.50,1.50,
1.47,1.36,1.35,1.48,1.60,1.68,1.71,1.66,1.60,1.53,
1.48,1.44,1.40,1.37,1.34,1.32,1.31,1.30,1.30,1.25,
1.10,1.07,1.06,1.05,1.04,1.03,1.02,1.01,1.00,0.99,
0.97,0.90,0.82,0.79,0.76,0.75,0.77,0.75,0.68,0.63,
0.62,0.63,0.64,0.62,0.55,0.51,0.51,0.57,0.60,0.43];
const NE_BLUE = [-0.56,-0.73,-0.55,-0.72,-0.57,-0.74,-0.56,-0.73,-0.55,-0.72,-0.56,-0.74,-0.54,-0.73,-0.56,-0.75,-0.54,-0.72,-0.52,-0.70,
-0.51,-0.69,-0.50,-0.68,-0.49,-0.67,-0.48,-0.66,-0.47,-0.65,-0.47,-0.65,-0.46,-0.64,-0.45,-0.63,-0.43,-0.61,-0.37,-0.55,
-0.29,-0.47,-0.23,-0.41,-0.17,-0.35,-0.11,-0.29,-0.06,-0.24,-0.02,-0.20,0.01,-0.17,0.03,-0.15,0.04,-0.14,0.05,-0.13,
0.06,-0.12,0.07,-0.11,0.08,-0.10,0.09,-0.09,0.10,-0.08,0.11,-0.07,0.12,-0.06,0.11,-0.07,0.10,-0.08,0.09,-0.09,
0.08,-0.10,0.07,-0.11,0.06,-0.12,0.05,-0.13,0.04,-0.14,0.03,-0.15,0.02,-0.16,0.01,-0.17,0.01,-0.17,0.03,-0.15,
0.06,-0.12,0.25,-0.08,0.00,-0.22,-0.26,-0.44,-0.41,-0.59,-0.48,-0.66,-0.49,-0.67,-0.36,-0.54,-0.16,-0.34,-0.05,-0.23,
0.14,-0.21,-0.31,-0.49,-0.55,-0.73,-0.56,-0.74,-0.56,-0.74,-0.55,-0.73,-0.55,-0.73,-0.57,-0.75,-0.58,-0.76,-0.57,-0.75,
-0.55,-0.73,-0.53,-0.71,-0.51,-0.69,-0.50,-0.68,-0.49,-0.67,-0.47,-0.65,-0.46,-0.64,-0.44,-0.62,-0.43,-0.61,-0.41,-0.59,
-0.39,-0.57,-0.36,-0.54,-0.33,-0.51,-0.32,-0.50,-0.29,-0.47,-0.26,-0.44,-0.24,-0.42,-0.23,-0.41,-0.21,-0.39,-0.19,-0.37,
-0.13,-0.31,-0.11,-0.29,-0.09,-0.27,-0.08,-0.26,-0.08,-0.26,-0.09,-0.27,-0.10,-0.28,-0.11,-0.29,-0.11,-0.29,-0.01,-0.19,0.02];
const NE_BLUE_SMOOTH = [-0.65,-0.64,-0.63,-0.64,-0.65,-0.64,-0.63,-0.65,-0.63,-0.61,
-0.60,-0.59,-0.58,-0.57,-0.56,-0.56,-0.55,-0.54,-0.52,-0.46,
-0.38,-0.32,-0.26,-0.20,-0.15,-0.11,-0.08,-0.06,-0.05,-0.04,
-0.03,-0.02,-0.01,0.00,0.01,0.02,0.03,0.02,0.01,0.00,
-0.01,-0.02,-0.03,-0.04,-0.05,-0.06,-0.07,-0.08,-0.08,-0.06,
-0.03,-0.01,-0.12,-0.35,-0.50,-0.57,-0.58,-0.45,-0.25,-0.14,
-0.12,-0.40,-0.64,-0.65,-0.65,-0.64,-0.64,-0.66,-0.67,-0.66,
-0.64,-0.62,-0.60,-0.59,-0.58,-0.56,-0.55,-0.53,-0.52,-0.50,
-0.48,-0.45,-0.42,-0.41,-0.38,-0.35,-0.33,-0.32,-0.30,-0.28,
-0.22,-0.20,-0.18,-0.17,-0.17,-0.18,-0.19,-0.20,-0.20,-0.10];
const NE_DOTS = [0.317, 0.655, -0.326];
const NE_TICKS = [-0.5, 0.5, 1.5];

// ---- f SE ----
const SE_GREY = [1.29,1.06,1.31,1.08,1.33,1.10,1.34,1.09,1.30,1.08,1.36,1.10,1.32,1.07,1.35,1.11,1.38,1.09,1.33,1.08,
1.30,1.07,1.32,1.09,1.34,1.10,1.33,1.09,1.31,1.07,1.30,1.06,1.25,1.00,1.26,1.02,1.28,1.04,1.27,1.05,
1.28,1.05,1.30,1.07,1.32,1.09,1.34,1.11,1.36,1.13,1.35,1.12,1.32,1.08,1.40,1.10,1.34,1.10,1.33,1.09,
1.32,1.08,1.31,1.08,1.31,1.08,1.30,1.07,1.33,1.09,1.35,1.11,1.36,1.10,1.28,1.04,1.24,0.99,1.22,0.98,
1.22,0.98,1.21,0.97,1.20,0.96,1.19,0.95,1.19,0.95,1.18,0.94,1.17,0.93,1.16,0.92,1.18,0.91,1.22,0.90,
1.15,0.91,1.13,0.89,1.10,0.86,1.06,0.82,1.02,0.78,0.97,0.73,0.92,0.68,0.84,0.60,0.88,0.64,0.96,0.72,
1.06,0.76,0.57,0.33,0.50,0.26,0.50,0.26,0.49,0.25,0.48,0.24,0.47,0.23,0.46,0.22,0.46,0.22,0.45,0.21,
0.45,0.21,0.45,0.21,0.46,0.22,0.46,0.22,0.46,0.22,0.45,0.21,0.45,0.21,0.45,0.21,0.44,0.20,0.44,0.20,
0.43,0.19,0.43,0.19,0.42,0.18,0.42,0.18,0.41,0.17,0.40,0.16,0.39,0.15,0.38,0.14,0.37,0.13,0.36,0.12,
0.36,0.12,0.35,0.11,0.34,0.10,0.33,0.09,0.32,0.08,0.31,0.07,0.30,0.06,0.30,0.06,0.29,0.05,0.29,0.05,0.20];
const SE_GREY_SMOOTH = [1.17,1.19,1.20,1.21,1.22,1.21,1.20,1.21,1.22,1.21,
1.19,1.20,1.22,1.21,1.20,1.19,1.14,1.14,1.15,1.16,
1.16,1.17,1.20,1.22,1.24,1.23,1.20,1.21,1.22,1.21,
1.20,1.20,1.20,1.19,1.21,1.23,1.20,1.15,1.12,1.10,
1.10,1.09,1.08,1.07,1.07,1.06,1.05,1.04,1.03,1.03,
1.03,1.01,0.98,0.94,0.90,0.85,0.80,0.72,0.76,0.84,
0.88,0.45,0.38,0.38,0.37,0.36,0.35,0.34,0.34,0.33,
0.33,0.33,0.34,0.34,0.34,0.33,0.33,0.33,0.32,0.32,
0.31,0.31,0.30,0.30,0.29,0.28,0.27,0.26,0.25,0.24,
0.24,0.23,0.22,0.21,0.20,0.19,0.18,0.18,0.17,0.17];
const SE_GREEN = [0.86,0.60,0.88,0.62,0.90,0.64,0.92,0.62,0.89,0.66,0.90,0.63,0.88,0.60,0.86,0.62,0.89,0.64,0.88,0.60,
0.88,0.62,0.87,0.61,0.88,0.62,0.86,0.60,0.84,0.58,0.80,0.54,0.78,0.52,0.80,0.56,0.84,0.58,0.86,0.60,
0.90,0.64,0.84,0.56,0.76,0.48,0.72,0.46,0.70,0.42,0.66,0.40,0.64,0.36,0.60,0.32,0.58,0.30,0.54,0.28,
0.52,0.25,0.50,0.23,0.49,0.22,0.48,0.20,0.46,0.18,0.45,0.17,0.44,0.16,0.43,0.15,0.43,0.15,0.44,0.16,
0.45,0.17,0.46,0.18,0.46,0.18,0.45,0.17,0.45,0.17,0.46,0.18,0.46,0.18,0.47,0.19,0.49,0.21,0.48,0.20,
0.34,0.06,0.19,-0.09,0.21,-0.07,0.34,0.06,0.38,0.10,0.39,0.11,0.39,0.11,0.42,0.14,0.44,0.16,0.43,0.15,
0.44,0.16,0.19,-0.25,0.09,-0.19,0.10,-0.18,0.11,-0.22,0.12,-0.16,0.16,-0.12,0.22,-0.06,0.28,0.00,0.29,0.01,
0.19,-0.09,0.12,-0.16,0.09,-0.19,0.06,-0.22,0.02,-0.30,-0.04,-0.55,-0.02,-0.30,0.02,-0.26,0.05,-0.23,0.04,-0.24,
0.04,-0.24,0.05,-0.23,0.06,-0.24,0.04,-0.27,0.01,-0.30,-0.01,-0.36,-0.03,-0.40,-0.04,-0.32,-0.02,-0.52,0.02,-0.26,
0.06,-0.22,0.08,-0.20,0.05,-0.23,0.02,-0.26,0.04,-0.24,0.07,-0.21,0.09,-0.19,0.10,-0.18,0.10,-0.18,0.09,-0.19,0.00];
const SE_GREEN_SMOOTH = [0.73,0.72,0.74,0.76,0.77,0.77,0.76,0.76,0.75,0.75,
0.75,0.75,0.75,0.74,0.72,0.68,0.66,0.68,0.70,0.72,
0.77,0.70,0.62,0.59,0.56,0.53,0.50,0.47,0.44,0.41,
0.38,0.37,0.36,0.35,0.33,0.31,0.30,0.29,0.29,0.30,
0.31,0.32,0.32,0.31,0.31,0.32,0.32,0.33,0.35,0.34,
0.20,0.05,0.07,0.20,0.24,0.25,0.25,0.28,0.30,0.29,
0.30,0.05,-0.05,-0.04,-0.03,-0.02,0.02,0.08,0.14,0.15,
0.05,-0.02,-0.05,-0.08,-0.12,-0.18,-0.16,-0.12,-0.09,-0.10,
-0.10,-0.09,-0.08,-0.10,-0.13,-0.15,-0.17,-0.18,-0.16,-0.12,
-0.08,-0.06,-0.09,-0.12,-0.10,-0.07,-0.05,-0.04,-0.04,-0.05];
const SE_BLUE = [0.62,0.30,0.58,0.28,0.60,0.32,0.56,0.30,0.62,0.28,0.60,0.30,0.58,0.28,0.62,0.32,0.65,0.34,0.60,0.30,
0.62,0.30,0.64,0.32,0.66,0.34,0.68,0.36,0.68,0.34,0.66,0.32,0.64,0.30,0.60,0.26,0.55,0.22,0.54,0.20,
0.62,0.30,0.68,0.34,0.72,0.38,0.78,0.44,0.84,0.50,0.90,0.56,0.96,0.60,1.00,0.64,1.02,0.66,1.02,0.64,
1.00,0.64,0.98,0.62,0.98,0.60,1.02,0.64,1.04,0.66,1.08,0.70,1.15,0.74,1.06,0.70,1.00,0.64,0.95,0.60,
0.90,0.54,0.92,0.56,0.95,0.58,0.94,0.58,0.93,0.57,0.92,0.56,0.90,0.54,0.90,0.54,0.94,0.58,0.96,0.60,
0.98,0.62,1.06,0.70,1.02,0.66,0.93,0.57,0.83,0.47,0.73,0.37,0.63,0.27,0.62,0.26,0.65,0.29,0.73,0.37,
0.80,0.40,0.63,0.27,0.56,0.20,0.56,0.20,0.57,0.21,0.56,0.20,0.54,0.18,0.51,0.15,0.48,0.12,0.46,0.10,
0.51,0.15,0.54,0.18,0.62,0.22,0.66,0.26,0.70,0.30,0.87,0.32,0.64,0.26,0.70,0.30,0.85,0.33,0.66,0.30,
0.62,0.26,0.60,0.24,0.60,0.24,0.59,0.23,0.59,0.23,0.59,0.23,0.61,0.25,0.62,0.26,0.85,0.27,0.64,0.28,
0.60,0.24,0.58,0.22,0.55,0.19,0.53,0.17,0.51,0.15,0.46,0.10,0.41,0.05,0.40,-0.05,0.40,0.04,0.40,0.04,0.55];
const SE_BLUE_SMOOTH = [0.45,0.43,0.42,0.44,0.45,0.43,0.43,0.45,0.47,0.46,
0.45,0.46,0.48,0.49,0.50,0.49,0.47,0.43,0.38,0.37,
0.45,0.50,0.55,0.60,0.66,0.72,0.77,0.80,0.82,0.82,
0.82,0.81,0.80,0.82,0.85,0.89,0.93,0.88,0.82,0.77,
0.72,0.74,0.77,0.76,0.75,0.74,0.72,0.72,0.76,0.78,
0.80,0.88,0.84,0.75,0.65,0.55,0.45,0.44,0.47,0.55,
0.58,0.45,0.38,0.38,0.39,0.38,0.36,0.33,0.30,0.28,
0.33,0.36,0.40,0.44,0.48,0.50,0.44,0.48,0.51,0.48,
0.44,0.42,0.42,0.41,0.41,0.41,0.43,0.44,0.45,0.46,
0.42,0.40,0.37,0.35,0.33,0.28,0.23,0.22,0.22,0.22];
const SE_DOTS = [0.094, -0.093, 0.19];
const SE_TICKS = [-0.5, 0, 0.5, 1.0, 1.5];

// ---------------- STYLE / LAYOUT ----------------
const FONT = 'DejaVu Sans';
const FS_TICK = 17;
const FS_LABEL = 18;
const COL = { grey: 'rgba(0,0,0,0.5)', green: 'rgba(0,128,0,0.5)', blue: 'rgba(0,0,255,0.5)' };

const PANELS = [
  { tag:'a', name:'PNW', left:91,  top:5,   min:-0.2,   max:2.31,  ticks:PNW_TICKS,   dec:1, row:0, col:0, titleX:111,
    grey:PNW_GREY, greyS:PNW_GREY_SMOOTH, green:PNW_GREEN, greenS:PNW_GREEN_SMOOTH, blue:PNW_BLUE, blueS:PNW_BLUE_SMOOTH, dots:PNW_DOTS },
  { tag:'b', name:'SW',  left:91,  top:249, min:-2.4,   max:2.42,  ticks:SW_TICKS,    dec:0, row:1, col:0, titleX:111,
    grey:SW_GREY, greyS:SW_GREY_SMOOTH, green:SW_GREEN, greenS:SW_GREEN_SMOOTH, blue:SW_BLUE, blueS:SW_BLUE_SMOOTH, dots:SW_DOTS },
  { tag:'c', name:'North', left:545, top:5, min:-0.595, max:1.107, ticks:NORTH_TICKS, dec:1, row:0, col:1, titleX:565,
    grey:NORTH_GREY, greyS:NORTH_GREY_SMOOTH, green:NORTH_GREEN, greenS:NORTH_GREEN_SMOOTH, blue:NORTH_BLUE, blueS:NORTH_BLUE_SMOOTH, dots:NORTH_DOTS },
  { tag:'d', name:'South', left:545, top:249, min:-1.203, max:1.414, ticks:SOUTH_TICKS, dec:1, row:1, col:1, titleX:566,
    grey:SOUTH_GREY, greyS:SOUTH_GREY_SMOOTH, green:SOUTH_GREEN, greenS:SOUTH_GREEN_SMOOTH, blue:SOUTH_BLUE, blueS:SOUTH_BLUE_SMOOTH, dots:SOUTH_DOTS },
  { tag:'e', name:'NE', left:999, top:5, min:-0.894, max:2.406, ticks:NE_TICKS, dec:1, row:0, col:2, titleRight:44, sep:' ',
    grey:NE_GREY, greyS:NE_GREY_SMOOTH, green:NE_GREEN, greenS:NE_GREEN_SMOOTH, blue:NE_BLUE, blueS:NE_BLUE_SMOOTH, dots:NE_DOTS },
  { tag:'f', name:'SE', left:999, top:249, min:-0.6, max:1.607, ticks:SE_TICKS, dec:1, row:1, col:2, titleRight:46, sep:'  ',
    grey:SE_GREY, greyS:SE_GREY_SMOOTH, green:SE_GREEN, greenS:SE_GREEN_SMOOTH, blue:SE_BLUE, blueS:SE_BLUE_SMOOTH, dots:SE_DOTS }
];

function fmt(dec) {
  return function (v) {
    let s = Math.abs(v) < 1e-9 ? (0).toFixed(dec) : Number(v).toFixed(dec);
    return s.replace('-', '\u2212');
  };
}
function pairs(times, vals) { return vals.map((v, i) => [times[i], v]); }

const grids = [], xAxes = [], yAxes = [], series = [], titles = [];

PANELS.forEach((p, k) => {
  grids.push({ left: p.left, top: p.top, width: 388, height: 228.5, show: true,
    borderColor: '#000', borderWidth: 1.2, backgroundColor: 'transparent', containLabel: false });
  const bottom = p.row === 1;
  xAxes.push({
    gridIndex: k, type: 'value', min: 10, max: 20, interval: 2, inverse: true,
    axisLine: { show: true, onZero: false, lineStyle: { color: '#000', width: 1.2 } },
    axisTick: { show: true, length: 9, inside: false, lineStyle: { color: '#000', width: 1.2 } },
    axisLabel: { show: bottom, margin: 17, fontSize: FS_TICK, color: '#000', fontFamily: FONT, formatter: fmt(0) },
    splitLine: { show: false },
    name: bottom ? 'Time (ka)' : '', nameLocation: 'middle', nameGap: 45,
    nameTextStyle: { fontSize: FS_LABEL, color: '#000', fontFamily: FONT }
  });
  yAxes.push({
    gridIndex: k, type: 'value', min: p.min, max: p.max,
    axisLine: { show: true, onZero: false, lineStyle: { color: '#000', width: 1.2 } },
    axisTick: { show: true, length: 9, customValues: p.ticks, lineStyle: { color: '#000', width: 1.2 } },
    axisLabel: { show: true, customValues: p.ticks, margin: 19, fontSize: FS_TICK, color: '#000', fontFamily: FONT, formatter: fmt(p.dec) },
    splitLine: { show: false },
    name: p.col === 0 ? 'mm d\u207B\u00B9' : '', nameLocation: 'middle', nameGap: 62, nameRotate: 90,
    nameTextStyle: { fontSize: FS_LABEL, color: '#000', fontFamily: FONT }
  });

  const base = { xAxisIndex: k, yAxisIndex: k, type: 'line', symbol: 'none', showSymbol: false,
    animation: false, silent: true, clip: true };
  [['grey', p.grey, p.greyS], ['green', p.green, p.greenS], ['blue', p.blue, p.blueS]].forEach(([c, raw, sm]) => {
    series.push(Object.assign({}, base, { data: pairs(TIME_RAW, raw), lineStyle: { color: COL[c], width: 2.3, join: 'miter' } }));
    series.push(Object.assign({}, base, { data: pairs(TIME_SMOOTH, sm), lineStyle: { color: '#000', width: 2.1, join: 'round' } }));
  });
  series.push(Object.assign({}, base, { data: [[20, 0], [10, 0]], lineStyle: { color: '#000', width: 2, type: [2, 2.7] } }));
  series.push({ xAxisIndex: k, yAxisIndex: k, type: 'scatter', clip: false, animation: false, silent: true,
    symbolSize: 10,
    data: [
      { value: [DOT_TIME, p.dots[0]], itemStyle: { color: COL.grey } },
      { value: [DOT_TIME, p.dots[1]], itemStyle: { color: COL.green } },
      { value: [DOT_TIME, p.dots[2]], itemStyle: { color: COL.blue } }
    ] });

  const rich = { b: { fontWeight: 'bold', fontSize: FS_LABEL, fontFamily: FONT, color: '#000' },
                 n: { fontWeight: 'normal', fontSize: FS_LABEL, fontFamily: FONT, color: '#000' } };
  const t = { text: '{b|' + p.tag + '}{n|' + (p.sep || ' ') + p.name + '}', top: p.row === 0 ? 14.5 : 259, padding: 0,
    textStyle: { fontSize: FS_LABEL, fontWeight: 'normal', color: '#000', fontFamily: FONT, rich } };
  if (p.titleRight !== undefined) t.right = p.titleRight; else t.left = p.titleX;
  titles.push(t);
});

const chart = echarts.init(document.getElementById('chart'), null, { renderer: 'canvas' });
chart.setOption({
  backgroundColor: '#fff',
  animation: false,
  textStyle: { fontFamily: FONT },
  title: titles,
  grid: grids,
  xAxis: xAxes,
  yAxis: yAxes,
  series: series
});
</script>
</body>
</html>
